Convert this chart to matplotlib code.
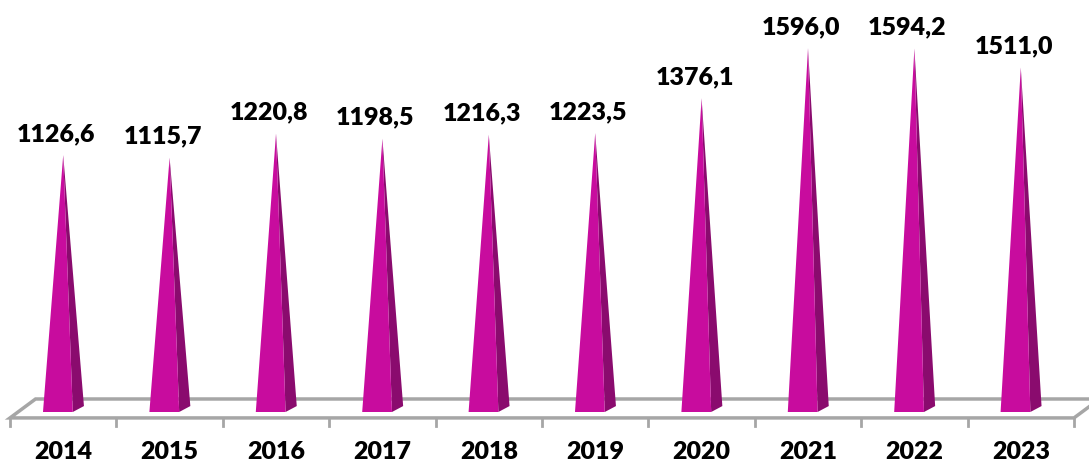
import matplotlib
matplotlib.use("Agg")
import matplotlib.pyplot as plt
from matplotlib.patches import Polygon

years = ["2014", "2015", "2016", "2017", "2018", "2019", "2020", "2021", "2022", "2023"]
values = [1126.6, 1115.7, 1220.8, 1198.5, 1216.3, 1223.5, 1376.1, 1596.0, 1594.2, 1511.0]
value_labels = ["1126,6", "1115,7", "1220,8", "1198,5", "1216,3",
                "1223,5", "1376,1", "1596,0", "1594,2", "1511,0"]

front_col = "#C80C9E"
side_col = "#8A0B6E"
floor_col = "#A6A6A6"
font = ["Lato", "DejaVu Sans"]

fig = plt.figure(figsize=(10.89, 4.65), dpi=100)
ax = fig.add_axes([0, 0, 1, 1])
ax.set_xlim(-0.594, 9.641)
ax.set_ylim(-232.5, 1807)
ax.axis("off")

# pyramid geometry (category units / value units)
left = 0.19
right = 0.09
depth_x = 0.105
depth_y = 26

# floor parallelogram
fy0 = -26
fy1 = 57
fdx = 0.24
n = len(years)
floor = Polygon([(-0.5, fy0), (-0.5 + fdx, fy1), (n - 0.5 + fdx, fy1), (n - 0.5, fy0)],
                closed=True, facecolor="white", edgecolor=floor_col, lw=2.5, zorder=1)
ax.add_patch(floor)
for k in range(n + 1):
    ax.plot([k - 0.5, k - 0.5], [fy0, -61], color=floor_col, lw=2, zorder=1)

for i, v in enumerate(values):
    front = Polygon([(i - left, 0), (i + right, 0), (i, v)], closed=True,
                    facecolor=front_col, edgecolor="none", zorder=3)
    side = Polygon([(i + right, 0), (i + right + depth_x, depth_y), (i, v)], closed=True,
                   facecolor=side_col, edgecolor="none", zorder=2)
    ax.add_patch(side)
    ax.add_patch(front)
    ax.annotate(value_labels[i], (i, v), xytext=(-7, 14), textcoords="offset pixels",
                ha="center", va="baseline", fontsize=18, fontweight="heavy",
                family=font, color="black", zorder=5)
    ax.text(i, -175, years[i], ha="center", va="center", fontsize=18,
            fontweight="heavy", family=font, color="black")

fig.savefig("out.png", dpi=100)
